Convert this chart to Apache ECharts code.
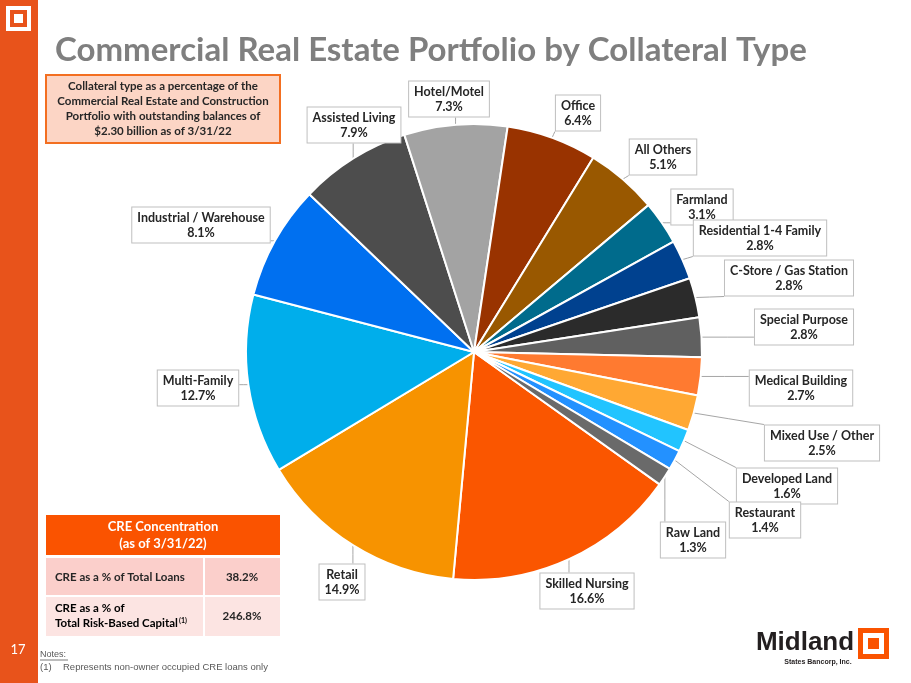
<!DOCTYPE html>
<html><head><meta charset="utf-8">
<script src="https://cdn.jsdelivr.net/npm/echarts@6/dist/echarts.min.js"></script>
<style>html,body{margin:0;padding:0;background:#fff}#c{width:911px;height:683px}</style>
</head><body><div id="c"></div>
<script>
// ---- data ----
const categories = ["Skilled Nursing","Retail","Multi-Family","Industrial / Warehouse","Assisted Living","Hotel/Motel","Office","All Others","Farmland","Residential 1-4 Family","C-Store / Gas Station","Special Purpose","Medical Building","Mixed Use / Other","Developed Land","Restaurant","Raw Land"];
const shares = [16.6,14.9,12.7,8.1,7.9,7.3,6.4,5.1,3.1,2.8,2.8,2.8,2.7,2.5,1.6,1.4,1.3];
const tableRows = ["CRE as a % of Total Loans","CRE as a % of\nTotal Risk-Based Capital"];
const tableValues = ["38.2%","246.8%"];

// ---- styles / layout ----
const colors = ["#FA5600","#F79300","#00AEEB","#0070F0","#4D4D4D","#A3A3A3","#993300","#995800","#006B8C","#00418F","#2B2B2B","#606060","#FF7A30","#FFA833","#21C4FF","#2391FF","#6A6A6A"];
const labelCenters = [[587,591],[342,582],[198,388],[201,225],[354,125],[449,99],[578,113],[663,157],[702,207],[760,238],[789,278],[804,327],[801,388],[822,443],[787,486],[765,520],[693,540]];
const FONT = "Lato";

const chart = echarts.init(document.getElementById('c'), null, {renderer:'canvas'});

function closestOnRect(px, py, cx, cy, hw, hh){
  const x = Math.max(cx-hw, Math.min(px, cx+hw));
  const y = Math.max(cy-hh, Math.min(py, cy+hh));
  return [x,y];
}

const option = {
  animation:false,
  backgroundColor:'#fff',
  series:[{
    type:'pie',
    center:[474,352],
    radius:[0,228],
    startAngle:-35.5,
    clockwise:true,
    avoidLabelOverlap:false,
    itemStyle:{borderColor:'#fff',borderWidth:2},
    data: categories.map((n,i)=>({name:n,value:shares[i],itemStyle:{color:colors[i]}})),
    label:{
      show:true,
      formatter:p=>p.name+'\n'+p.value.toFixed(1)+'%',
      fontFamily:FONT,fontWeight:'bold',fontSize:12.5,color:'#262626',lineHeight:15,
      align:'center',
      backgroundColor:'#fff',borderColor:'#BFBFBF',borderWidth:1,padding:[3,5,2,5]
    },
    labelLine:{show:true,length:10,length2:5,lineStyle:{color:'#A6A6A6',width:1}},
    labelLayout:function(params){
      const c = labelCenters[params.dataIndex];
      const r = params.labelRect;
      const hw = r.width/2, hh = r.height/2;
      const s = params.labelLinePoints ? params.labelLinePoints[0] : [c[0],c[1]];
      const e = closestOnRect(s[0],s[1],c[0],c[1],hw,hh);
      return {x:c[0],y:c[1],align:'center',verticalAlign:'middle',
        labelLinePoints:[[s[0],s[1]],[(s[0]+e[0])/2,(s[1]+e[1])/2],[e[0],e[1]]]};
    }
  }],
  graphic:[
    // left bar
    {type:'rect',shape:{x:0,y:0,width:38,height:683},style:{fill:'#E8531B'},silent:true},
    {type:'rect',shape:{x:6,y:6,width:25,height:25},style:{fill:'#fff'}},
    {type:'rect',shape:{x:10,y:10,width:17,height:17},style:{fill:'#E8531B'}},
    {type:'rect',shape:{x:14,y:14,width:9,height:9},style:{fill:'#fff'}},
    {type:'text',x:18,y:650,style:{text:'17',fill:'#fff',font:'13px '+FONT,textAlign:'center',textVerticalAlign:'middle'}},
    // title
    {type:'text',x:55,y:50,style:{text:'Commercial Real Estate Portfolio by Collateral Type',fill:'#7F7F7F',font:'bold 33px '+FONT,textVerticalAlign:'middle'}},
    // description box
    {type:'rect',shape:{x:46,y:75,width:234,height:68},style:{fill:'#FCD5C5',stroke:'#F36F21',lineWidth:2}},
    {type:'text',x:163,y:109,style:{text:'Collateral type as a percentage of the\nCommercial Real Estate and Construction\nPortfolio with outstanding balances of\n$2.30 billion as of 3/31/22',fill:'#262626',font:'bold 11.5px '+FONT,lineHeight:15,textAlign:'center',textVerticalAlign:'middle'}},
    // table
    {type:'rect',shape:{x:46,y:515,width:234,height:40},style:{fill:'#FA5300'}},
    {type:'text',x:163,y:535,style:{text:'CRE Concentration\n(as of 3/31/22)',fill:'#fff',font:'bold 13px '+FONT,lineHeight:17,textAlign:'center',textVerticalAlign:'middle'}},
    {type:'rect',shape:{x:46,y:558,width:157,height:37},style:{fill:'#FBCFCB'}},
    {type:'rect',shape:{x:205,y:558,width:75,height:37},style:{fill:'#FBCFCB'}},
    {type:'rect',shape:{x:46,y:597,width:157,height:39},style:{fill:'#FCE4E2'}},
    {type:'rect',shape:{x:205,y:597,width:75,height:39},style:{fill:'#FCE4E2'}},
    {type:'text',x:55,y:577,style:{text:tableRows[0],fill:'#262626',font:'bold 11.5px '+FONT,textVerticalAlign:'middle'}},
    {type:'text',x:55,y:616,style:{
      text:'{a|'+tableRows[1].split('\n')[0]+'}\n{a|'+tableRows[1].split('\n')[1]+'}{s|(1)}',
      rich:{a:{fontFamily:FONT,fontWeight:'bold',fontSize:11.5,color:'#262626',lineHeight:15},
            s:{fontFamily:FONT,fontWeight:'bold',fontSize:7,color:'#262626',lineHeight:15,padding:[0,0,6,1]}},
      textVerticalAlign:'middle'}},
    {type:'text',x:242,y:577,style:{text:tableValues[0],fill:'#262626',font:'bold 11.5px '+FONT,textAlign:'center',textVerticalAlign:'middle'}},
    {type:'text',x:242,y:616,style:{text:tableValues[1],fill:'#262626',font:'bold 11.5px '+FONT,textAlign:'center',textVerticalAlign:'middle'}},
    // notes
    {type:'text',x:40,y:655,style:{text:'Notes:',fill:'#595959',font:'9px "Liberation Sans"',textVerticalAlign:'middle'}},
    {type:'line',shape:{x1:40,y1:660,x2:68,y2:660},style:{stroke:'#595959',lineWidth:0.8}},
    {type:'text',x:40,y:667,style:{text:'(1)',fill:'#595959',font:'9.5px "Liberation Sans"',textVerticalAlign:'middle'}},
    {type:'text',x:63,y:667,style:{text:'Represents non-owner occupied CRE loans only',fill:'#595959',font:'9.5px "Liberation Sans"',textVerticalAlign:'middle'}},
    // logo
    {type:'text',x:805,y:643,style:{text:'Midland',fill:'#231F20',font:'bold 26px "Liberation Sans"',textAlign:'center',textVerticalAlign:'middle'}},
    {type:'text',x:818,y:662,style:{text:'States Bancorp, Inc.',fill:'#231F20',font:'bold 7px "Liberation Sans"',textAlign:'center',textVerticalAlign:'middle'}},
    {type:'rect',shape:{x:858,y:628,width:31,height:31},style:{fill:'#FA5300'}},
    {type:'rect',shape:{x:863,y:633,width:21,height:21},style:{fill:'#fff'}},
    {type:'rect',shape:{x:868,y:638,width:11,height:11},style:{fill:'#FA5300'}}
  ]
};
chart.setOption(option);
</script></body></html>
